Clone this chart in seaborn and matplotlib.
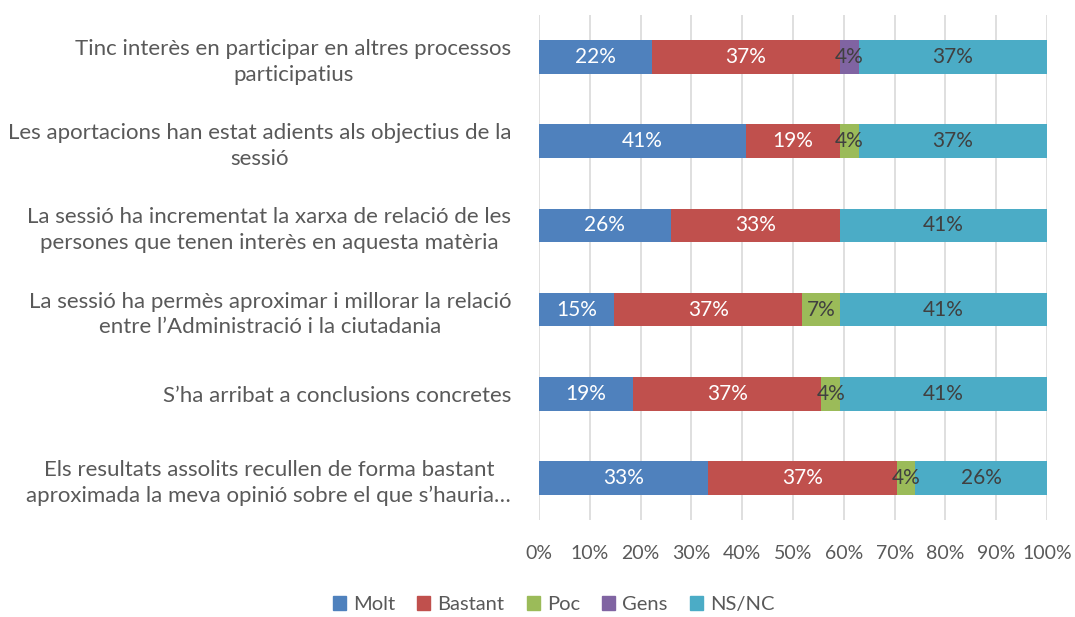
import matplotlib.pyplot as plt
import seaborn as sns
import pandas as pd
import numpy as np

# responses (counts out of 27) per question, top to bottom
questions = [
    "Tinc interès en participar en altres processos\nparticipatius",
    "Les aportacions han estat adients als objectius de la\nsessió",
    "La sessió ha incrementat la xarxa de relació de les\npersones que tenen interès en aquesta matèria",
    "La sessió ha permès aproximar i millorar la relació\nentre l’Administració i la ciutadania",
    "S’ha arribat a conclusions concretes",
    "Els resultats assolits recullen de forma bastant\naproximada la meva opinió sobre el que s’hauria…",
]
series = ["Molt", "Bastant", "Poc", "Gens", "NS/NC"]
molt = [6, 11, 7, 4, 5, 9]
bastant = [10, 5, 9, 10, 10, 10]
poc = [0, 1, 0, 2, 1, 1]
gens = [1, 0, 0, 0, 0, 0]
nsnc = [10, 10, 11, 11, 11, 7]

colors = ["#4f81bd", "#c0504d", "#9bbb59", "#8064a2", "#4bacc6"]
label_colors = ["white", "white", "#404040", "#404040", "#404040"]

df = pd.DataFrame({"pregunta": questions, "Molt": molt, "Bastant": bastant,
                   "Poc": poc, "Gens": gens, "NS/NC": nsnc})
pct = df[series].div(df[series].sum(axis=1), axis=0) * 100
cum = pct.cumsum(axis=1)

sns.set_theme(style="white")
plt.rcParams['font.family'] = ['Lato', 'DejaVu Sans']
grey = "#595959"

fig = plt.figure(figsize=(10.75, 6.17), dpi=100)
ax = fig.add_axes([0.5014, 0.157, 0.4726, 0.819])

# draw stacked bars by layering cumulative totals, widest first
for i in range(len(series) - 1, -1, -1):
    plot_df = pd.DataFrame({"pregunta": questions, "val": cum[series[i]].values})
    sns.barplot(data=plot_df, x="val", y="pregunta", color=colors[i], width=0.4,
                saturation=1, ax=ax, orient="h", edgecolor="none", zorder=2)

for r in range(len(questions)):
    for i, s in enumerate(series):
        v = pct[s].iloc[r]
        if v <= 0:
            continue
        xc = cum[s].iloc[r] - v / 2
        ax.text(xc, r, f"{v:.0f}%", ha="center", va="center",
                color=label_colors[i], fontsize=15, zorder=3)

ax.set_xlim(0, 100)
ax.set_ylim(len(questions) - 0.5, -0.5)
ax.set_xticks(np.arange(0, 101, 10))
ax.set_xticklabels([f"{t}%" for t in range(0, 101, 10)], color=grey, fontsize=14)
ax.tick_params(axis="x", length=0, pad=18)
ax.tick_params(axis="y", length=0, pad=20)
for lab in ax.get_yticklabels():
    lab.set_multialignment("center")
    lab.set_linespacing(1.35)
    lab.set_color(grey)
    lab.set_fontsize(16)
ax.set_xlabel("")
ax.set_ylabel("")
ax.grid(axis="x", color="#d9d9d9", linewidth=1.2, zorder=0)
ax.set_axisbelow(True)
for sp in ax.spines.values():
    sp.set_visible(False)

handles = [plt.Rectangle((0, 0), 1, 1, color=c) for c in colors]
fig.legend(handles, series, loc="center", bbox_to_anchor=(0.515, 0.02), ncol=5,
           frameon=False, fontsize=14.5, handlelength=0.65, handleheight=0.65,
           handletextpad=0.35, columnspacing=1.1, labelcolor=grey)

fig.savefig("out.png", dpi=100)
